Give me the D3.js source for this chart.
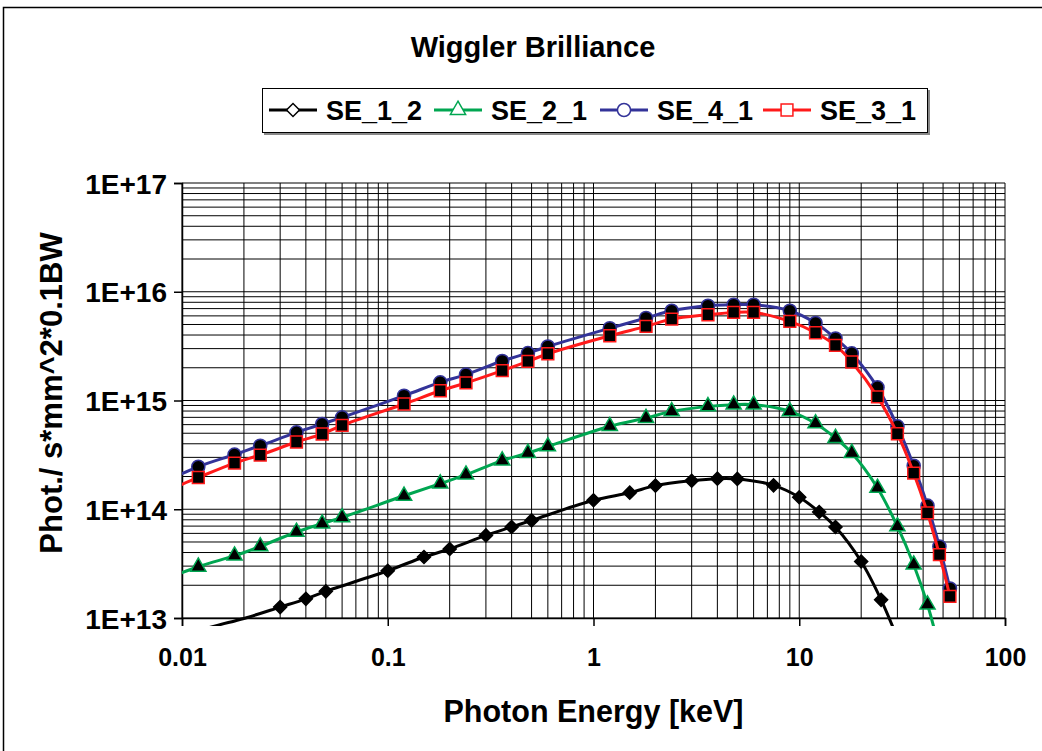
<!DOCTYPE html>
<html>
<head>
<meta charset="utf-8">
<script src="https://cdnjs.cloudflare.com/ajax/libs/d3/7.8.5/d3.min.js"></script>
<style>
  body { margin: 0; background: #fff; }
  text { font-family: "Liberation Sans", Arial, sans-serif; font-weight: bold; fill: #000; }
</style>
</head>
<body>
<div id="chart"></div>
<script>
/*** Wiggler Brilliance - log/log chart of 4 sources ***/

// Photon energies [keV] used by SE_2_1, SE_4_1 and SE_3_1 (0.006 and 48 fall outside the plot)
var energy_a = [0.006, 0.012, 0.018, 0.024, 0.036, 0.048, 0.06, 0.12, 0.18, 0.24, 0.36, 0.48, 0.6,
                1.2, 1.8, 2.4, 3.6, 4.8, 6, 9, 12, 15, 18, 24, 30, 36, 42, 48, 54];

// Photon energies [keV] used by SE_1_2
var energy_b = [0.01, 0.015, 0.02, 0.03, 0.04, 0.05, 0.1, 0.15, 0.2, 0.3, 0.4, 0.5,
                1, 1.5, 2, 3, 4, 5, 7.5, 10, 12.5, 15, 20, 25, 30];

// Brilliance values [phot/s/mm^2/0.1%BW]
var se_1_2 = [7.0e12, 8.6e12, 9.9e12, 1.26e13, 1.50e13, 1.76e13, 2.72e13, 3.64e13, 4.31e13, 5.75e13, 6.87e13, 7.89e13,
              1.21e14, 1.42e14, 1.65e14, 1.83e14, 1.91e14, 1.90e14, 1.66e14, 1.29e14, 9.44e13, 6.87e13, 3.31e13, 1.47e13, 6.5e12];

var se_2_1 = [1.8e13, 2.96e13, 3.74e13, 4.55e13, 6.18e13, 7.37e13, 8.41e13, 1.33e14, 1.72e14, 2.08e14, 2.80e14, 3.29e14, 3.78e14,
              5.80e14, 6.90e14, 7.94e14, 8.83e14, 9.15e14, 9.15e14, 7.94e14, 6.15e14, 4.52e14, 3.29e14, 1.57e14, 6.95e13, 3.09e13, 1.33e13, 5.0e12, 1.5e12];

var se_4_1 = [1.35e14, 2.46e14, 3.18e14, 3.84e14, 5.09e14, 6.08e14, 7.00e14, 1.107e15, 1.47e15, 1.73e15, 2.31e15, 2.73e15, 3.14e15,
              4.62e15, 5.74e15, 6.69e15, 7.44e15, 7.60e15, 7.60e15, 6.69e15, 5.16e15, 3.72e15, 2.71e15, 1.32e15, 5.78e14, 2.51e14, 1.08e14, 4.55e13, 1.87e13];

var se_3_1 = [1.12e14, 1.96e14, 2.66e14, 3.15e14, 4.15e14, 4.92e14, 5.90e14, 9.29e14, 1.23e15, 1.45e15, 1.88e15, 2.29e15, 2.69e15,
              3.94e15, 4.80e15, 5.61e15, 6.15e15, 6.46e15, 6.46e15, 5.34e15, 4.20e15, 3.21e15, 2.26e15, 1.08e15, 4.95e14, 2.15e14, 9.25e13, 3.82e13, 1.58e13];

// Axis tick labels
var x_ticks = [0.01, 0.1, 1, 10, 100];
var y_ticks = [1e13, 1e14, 1e15, 1e16, 1e17];
var y_tick_labels = ["1E+13", "1E+14", "1E+15", "1E+16", "1E+17"];

// Series (drawn in this order, red last so it sits on top)
var series = [
  { name: "SE_1_2", x: energy_b, y: se_1_2, color: "#000000", symbol: "diamond" },
  { name: "SE_2_1", x: energy_a, y: se_2_1, color: "#00A651", symbol: "triangle" },
  { name: "SE_4_1", x: energy_a, y: se_4_1, color: "#333399", symbol: "circle" },
  { name: "SE_3_1", x: energy_a, y: se_3_1, color: "#FF1A1A", symbol: "square" }
];

var width  = 1042,
    height = 751,
    margin = { left: 182, right: 37, top: 183, bottom: 133 };

var svg = d3.select("#chart")
            .append("svg")
              .attr("width", width)
              .attr("height", height);

// Chart border
svg.append("rect")
     .attr("x", 3.5)
     .attr("y", 7.5)
     .attr("width", width + 10)
     .attr("height", height + 10)
     .style("fill", "#fff")
     .style("stroke", "#000")
     .style("stroke-width", 1.5);

var x = d3.scaleLog()
          .domain([0.01, 100])
          .range([margin.left, width - margin.right]);

var y = d3.scaleLog()
          .domain([1e13, 1e17])
          .range([height - margin.bottom, margin.top]);

// Gridlines on every 1..9 of each decade
function log_grid(lo, hi){
  var vals = [];
  for (var p = lo; p < hi; p++) {
    for (var k = 1; k < 10; k++) vals.push(k * Math.pow(10, p));
  }
  vals.push(Math.pow(10, hi));
  return vals;
}

var grid = svg.append("g").attr("class", "grid");

grid.selectAll("line.v")
    .data(log_grid(-2, 2))
    .enter()
    .append("line")
      .attr("class", "v")
      .attr("x1", function(d) { return x(d); })
      .attr("x2", function(d) { return x(d); })
      .attr("y1", y(1e17))
      .attr("y2", y(1e13))
      .style("stroke", "#000")
      .style("stroke-width", 1);

grid.selectAll("line.h")
    .data(log_grid(13, 17))
    .enter()
    .append("line")
      .attr("class", "h")
      .attr("x1", x(0.01))
      .attr("x2", x(100))
      .attr("y1", function(d) { return y(d); })
      .attr("y2", function(d) { return y(d); })
      .style("stroke", "#000")
      .style("stroke-width", 1);

// Axes
var x_axis = d3.axisBottom(x)
               .tickValues(x_ticks)
               .tickFormat(function(d) { return String(d); })
               .tickSize(8)
               .tickPadding(22);

var y_axis = d3.axisLeft(y)
               .tickValues(y_ticks)
               .tickFormat(function(d, i) { return y_tick_labels[i]; })
               .tickSize(8)
               .tickPadding(7);

var gx = svg.append("g")
            .attr("transform", "translate(0," + y(1e13) + ")")
            .call(x_axis);

var gy = svg.append("g")
            .attr("transform", "translate(" + x(0.01) + ",0)")
            .call(y_axis);

[gx, gy].forEach(function(g){
  g.select(".domain").style("stroke", "#000").style("stroke-width", 1.5);
  g.selectAll(".tick line").style("stroke", "#000").style("stroke-width", 1.5);
  g.selectAll(".tick text")
     .style("font-family", "'Liberation Sans', Arial, sans-serif")
     .style("font-weight", "bold")
     .style("fill", "#000");
});
gx.selectAll(".tick text").style("font-size", "25px");
gy.selectAll(".tick text").style("font-size", "28px").attr("dy", "0.36em");

// Clip so curves stop near the plot area (Excel lets them run a few px under the x axis)
svg.append("clipPath")
     .attr("id", "plot_clip")
   .append("rect")
     .attr("x", x(0.01))
     .attr("y", y(1e17))
     .attr("width", x(100) - x(0.01))
     .attr("height", y(1e13) - y(1e17) + 8);

var line = d3.line()
             .x(function(d) { return x(d[0]); })
             .y(function(d) { return y(d[1]); })
             .curve(d3.curveCatmullRom.alpha(0.5));

var symbols = {
  diamond:  d3.symbol().type(d3.symbolSquare).size(85),
  triangle: d3.symbol().type(d3.symbolTriangle).size(100),
  circle:   d3.symbol().type(d3.symbolCircle).size(135),
  square:   d3.symbol().type(d3.symbolSquare).size(140)
};

var plot = svg.append("g").attr("clip-path", "url(#plot_clip)");

series.forEach(function(s){
  var pts = s.x.map(function(v, i) { return [v, s.y[i]]; });

  plot.append("path")
        .datum(pts)
        .attr("d", line)
        .style("fill", "none")
        .style("stroke", s.color)
        .style("stroke-width", 3);

  // Excel leaves out markers for points beyond the axis range
  plot.selectAll(null)
      .data(pts.filter(function(d) { return d[0] >= 0.01 && d[0] <= 100 && d[1] >= 1e13 && d[1] <= 1e17; }))
      .enter()
      .append("path")
        .attr("d", symbols[s.symbol])
        .attr("transform", function(d) {
          return "translate(" + x(d[0]) + "," + y(d[1]) + ")" + (s.symbol == "diamond" ? " rotate(45)" : "");
        })
        .style("fill", "#000")
        .style("stroke", s.color)
        .style("stroke-width", 1.5);
});

// Title
svg.append("text")
     .attr("x", 533)
     .attr("y", 57)
     .attr("text-anchor", "middle")
     .style("font-size", "29px")
     .text("Wiggler Brilliance");

// Axis titles
svg.append("text")
     .attr("x", x(1))
     .attr("y", 722)
     .attr("text-anchor", "middle")
     .style("font-size", "30.5px")
     .text("Photon Energy [keV]");

svg.append("text")
     .attr("transform", "translate(62,393) rotate(-90)")
     .attr("text-anchor", "middle")
     .style("font-size", "31px")
     .text("Phot./ s*mm^2*0.1BW");

// Legend
var legend = svg.append("g").attr("class", "legend");

legend.append("rect")
        .attr("x", 264).attr("y", 90)
        .attr("width", 666).attr("height", 45)
        .style("fill", "#888");

legend.append("rect")
        .attr("x", 262.5).attr("y", 88.5)
        .attr("width", 665).attr("height", 44)
        .style("fill", "#fff")
        .style("stroke", "#000")
        .style("stroke-width", 1);

var legend_x = [269, 434, 600, 763];

series.forEach(function(s, i){
  var g = legend.append("g")
                .attr("transform", "translate(" + legend_x[i] + ",110)");

  g.append("line")
     .attr("x1", 0).attr("x2", 48)
     .style("stroke", s.color)
     .style("stroke-width", 3);

  g.append("path")
     .attr("d", symbols[s.symbol])
     .attr("transform", "translate(24,0)" + (s.symbol == "diamond" ? " rotate(45)" : ""))
     .style("fill", "#fff")
     .style("stroke", s.color)
     .style("stroke-width", 1.5);

  g.append("text")
     .attr("x", 57)
     .attr("y", 10)
     .style("font-size", "27px")
     .text(s.name);
});
</script>
</body>
</html>
